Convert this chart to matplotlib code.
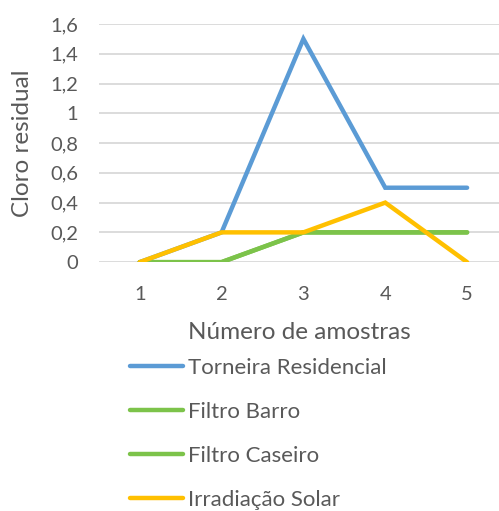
import matplotlib
matplotlib.use("Agg")
import matplotlib.pyplot as plt

amostras = [1, 2, 3, 4, 5]
torneira = [0, 0.2, 1.5, 0.5, 0.5]
filtro_barro = [0, 0, 0.2, 0.2, 0.2]
filtro_caseiro = [0, 0, 0.2, 0.2, 0.2]
irradiacao = [0, 0.2, 0.2, 0.4, 0]
y_ticks = [0, 0.2, 0.4, 0.6, 0.8, 1.0, 1.2, 1.4, 1.6]

plt.rcParams['font.family'] = ['Lato', 'DejaVu Sans']
txt = '#595959'

fig = plt.figure(figsize=(4.99, 5.11), dpi=100)
ax = fig.add_axes([0.198, 0.487, 0.802, 0.466])

lw = 3.2
ax.plot(amostras, torneira, color='#5B9BD5', lw=lw, solid_capstyle='round', solid_joinstyle='miter', label='Torneira Residencial')
ax.plot(amostras, filtro_barro, color='#7CC34A', lw=lw, solid_capstyle='round', solid_joinstyle='miter', label='Filtro Barro')
ax.plot(amostras, filtro_caseiro, color='#7CC34A', lw=lw, solid_capstyle='round', solid_joinstyle='miter', label='Filtro Caseiro')
ax.plot(amostras, irradiacao, color='#FFC000', lw=lw, solid_capstyle='round', solid_joinstyle='miter', label='Irradiação Solar')

ax.set_xlim(0.5, 5.39)
ax.set_ylim(0, 1.6)
ax.set_yticks(y_ticks)
ax.set_yticklabels([('%g' % v).replace('.', ',') for v in y_ticks])
ax.set_xticks(amostras)
ax.grid(axis='y', color='#D9D9D9', lw=1.3)
ax.set_axisbelow(True)
for s in ax.spines.values():
    s.set_visible(False)
ax.tick_params(length=0, labelsize=14.5, colors=txt)
ax.tick_params(axis='x', pad=17)
ax.tick_params(axis='y', pad=15)
ax.set_ylabel('Cloro residual', fontsize=17.5, color=txt, labelpad=12)
ax.set_xlabel('Número de amostras', fontsize=17.5, color=txt, labelpad=14)

fig.legend(loc='upper left', bbox_to_anchor=(0.26, 0.299), frameon=False,
           fontsize=16, labelcolor=txt, handlelength=2.4, handletextpad=0.2,
           labelspacing=1.07, borderaxespad=0, borderpad=0)

fig.savefig('out.png', dpi=100, facecolor='white')
